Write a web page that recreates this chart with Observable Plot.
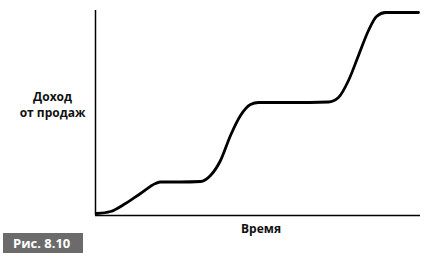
<!DOCTYPE html>
<html>
<head>
<meta charset="utf-8">
<script src="https://cdn.jsdelivr.net/npm/d3@7"></script>
<script src="https://cdn.jsdelivr.net/npm/@observablehq/plot@0.6"></script>
<style>
  html, body { margin: 0; padding: 0; background: #fff; }
  #wrap { position: relative; width: 434px; height: 262px; overflow: hidden; }
  #fig { position: absolute; left: 3px; top: 233px; width: 80px; height: 20px;
         background: #6b6b6b; color: #fff; font: bold 13px "Open Sans", sans-serif;
         line-height: 20px; text-indent: 10px; }
</style>
</head>
<body>
<div id="wrap"></div>
<script>
// Time (arbitrary units) and revenue (arbitrary units)
const time    = [1, 15, 30, 45, 60, 65, 85, 105, 115, 125, 135, 145, 155, 163, 195, 233, 243, 253, 263, 273, 281, 290, 323];
const revenue = [2, 4, 12, 22, 32, 33.5, 33.5, 34, 40, 55, 80, 100, 111, 113, 113, 113.5, 118, 135, 160, 185, 199, 203, 203];
const xLabel = "Время";
const yLabel = "Доход\nот продаж";
const figLabel = "Рис. 8.10";

const data = time.map((t, i) => ({t, r: revenue[i]}));

const chart = Plot.plot({
  width: 434,
  height: 262,
  marginLeft: 95,
  marginRight: 14,
  marginTop: 10,
  marginBottom: 47,
  x: {domain: [0, 325], axis: null},
  y: {domain: [0, 205], axis: null},
  style: {fontFamily: "'Open Sans', sans-serif", background: "#fff"},
  marks: [
    Plot.ruleX([0], {stroke: "#000", strokeWidth: 1.5}),
    Plot.ruleY([0], {stroke: "#000", strokeWidth: 1.5}),
    Plot.line(data, {x: "t", y: "r", curve: "monotone-x", stroke: "#000", strokeWidth: 2.8, strokeLinecap: "round"}),
    Plot.text([xLabel], {frameAnchor: "bottom", dy: 9, dx: 3, lineAnchor: "top", fontSize: 12, fontWeight: "bold", fill: "#111"}),
    Plot.text([yLabel], {frameAnchor: "left", dx: -43, dy: -9, textAnchor: "middle", lineAnchor: "middle", lineHeight: 1.35, fontSize: 12, fontWeight: "bold", fill: "#111"})
  ]
});
const wrap = document.getElementById("wrap");
wrap.appendChild(chart);
const fig = document.createElement("div");
fig.id = "fig";
fig.textContent = figLabel;
wrap.appendChild(fig);
</script>
</body>
</html>
